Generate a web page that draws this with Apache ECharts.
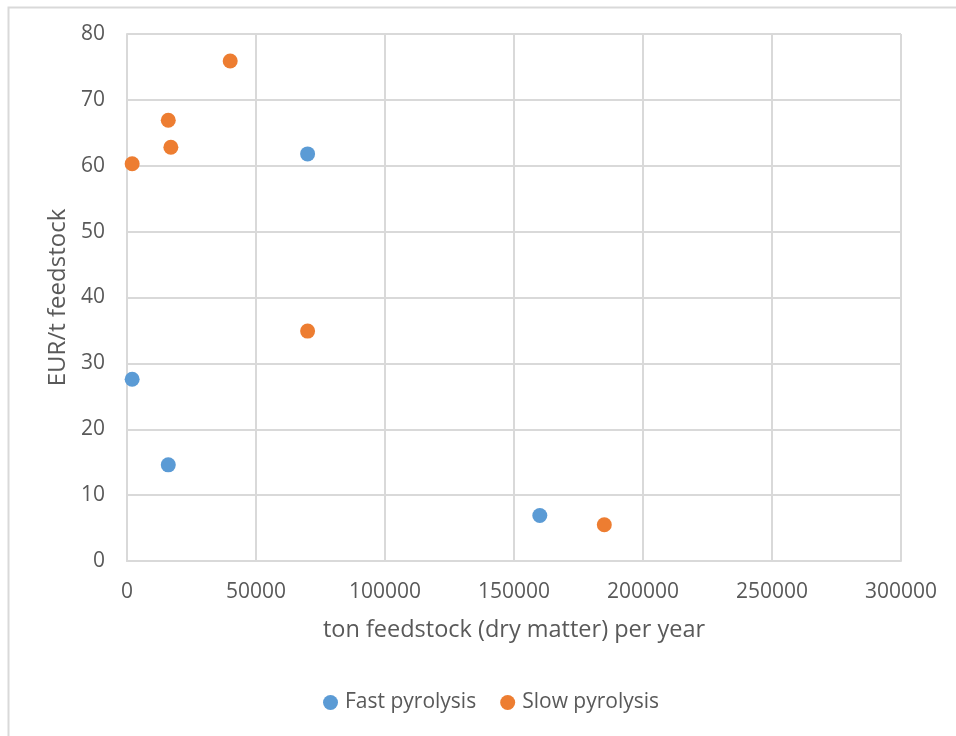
<!DOCTYPE html>
<html>
<head>
<meta charset="utf-8">
<script src="https://cdn.jsdelivr.net/npm/echarts@6/dist/echarts.min.js"></script>
<style>
html,body{margin:0;padding:0;background:#fff;}
#chart{width:956px;height:736px;}
</style>
</head>
<body>
<div id="chart"></div>
<script>
const seriesNames = ["Fast pyrolysis", "Slow pyrolysis"];
const fastX = [2000, 16000, 70000, 160000];
const fastY = [27.6, 14.6, 61.8, 6.9];
const slowX = [2000, 16000, 17000, 40000, 70000, 185000];
const slowY = [60.3, 66.9, 62.8, 75.9, 34.9, 5.5];
const xTitle = "ton feedstock (dry matter) per year";
const yTitle = "EUR/t feedstock";

const pair = (xs, ys) => xs.map((x, i) => [x, ys[i]]);
const font = "'Open Sans', 'Liberation Sans', sans-serif";
const txt = "#595959";
const grid = "#D9D9D9";

const chart = echarts.init(document.getElementById('chart'), null, {renderer: 'canvas'});
chart.setOption({
  animation: false,
  backgroundColor: '#fff',
  graphic: [{
    type: 'rect', left: 6, top: 5, silent: true,
    shape: {x: 0, y: 0, width: 1000, height: 800},
    style: {fill: 'none', stroke: '#D9D9D9', lineWidth: 2}
  }],
  grid: {left: 127, top: 34, width: 774, height: 527, containLabel: false},
  xAxis: {
    type: 'value', min: 0, max: 300000, interval: 50000,
    name: xTitle, nameLocation: 'middle', nameGap: 57,
    nameTextStyle: {color: txt, fontSize: 23.5, fontFamily: font},
    axisLine: {show: true, lineStyle: {color: grid, width: 2}},
    axisTick: {show: false},
    axisLabel: {color: txt, fontSize: 21, fontFamily: font, margin: 21,
      formatter: v => String(v)},
    splitLine: {show: true, lineStyle: {color: grid, width: 2}}
  },
  yAxis: {
    type: 'value', min: 0, max: 80, interval: 10,
    name: yTitle, nameLocation: 'middle', nameGap: 53,
    nameTextStyle: {color: txt, fontSize: 24, fontFamily: font},
    axisLine: {show: true, lineStyle: {color: grid, width: 2}},
    axisTick: {show: false},
    axisLabel: {color: txt, fontSize: 21, fontFamily: font, margin: 22},
    splitLine: {show: true, lineStyle: {color: grid, width: 2}}
  },
  legend: {
    data: seriesNames,
    left: 318, top: 687,
    icon: 'circle', itemWidth: 15, itemHeight: 15, itemGap: 24,
    textStyle: {color: txt, fontSize: 21, fontFamily: font, padding: [0, 0, 0, 2]}
  },
  series: [
    {name: seriesNames[0], type: 'scatter', data: pair(fastX, fastY), symbolSize: 15,
     itemStyle: {color: '#5B9BD5', opacity: 1}},
    {name: seriesNames[1], type: 'scatter', data: pair(slowX, slowY), symbolSize: 15,
     itemStyle: {color: '#ED7D31', opacity: 1}}
  ]
});
</script>
</body>
</html>
